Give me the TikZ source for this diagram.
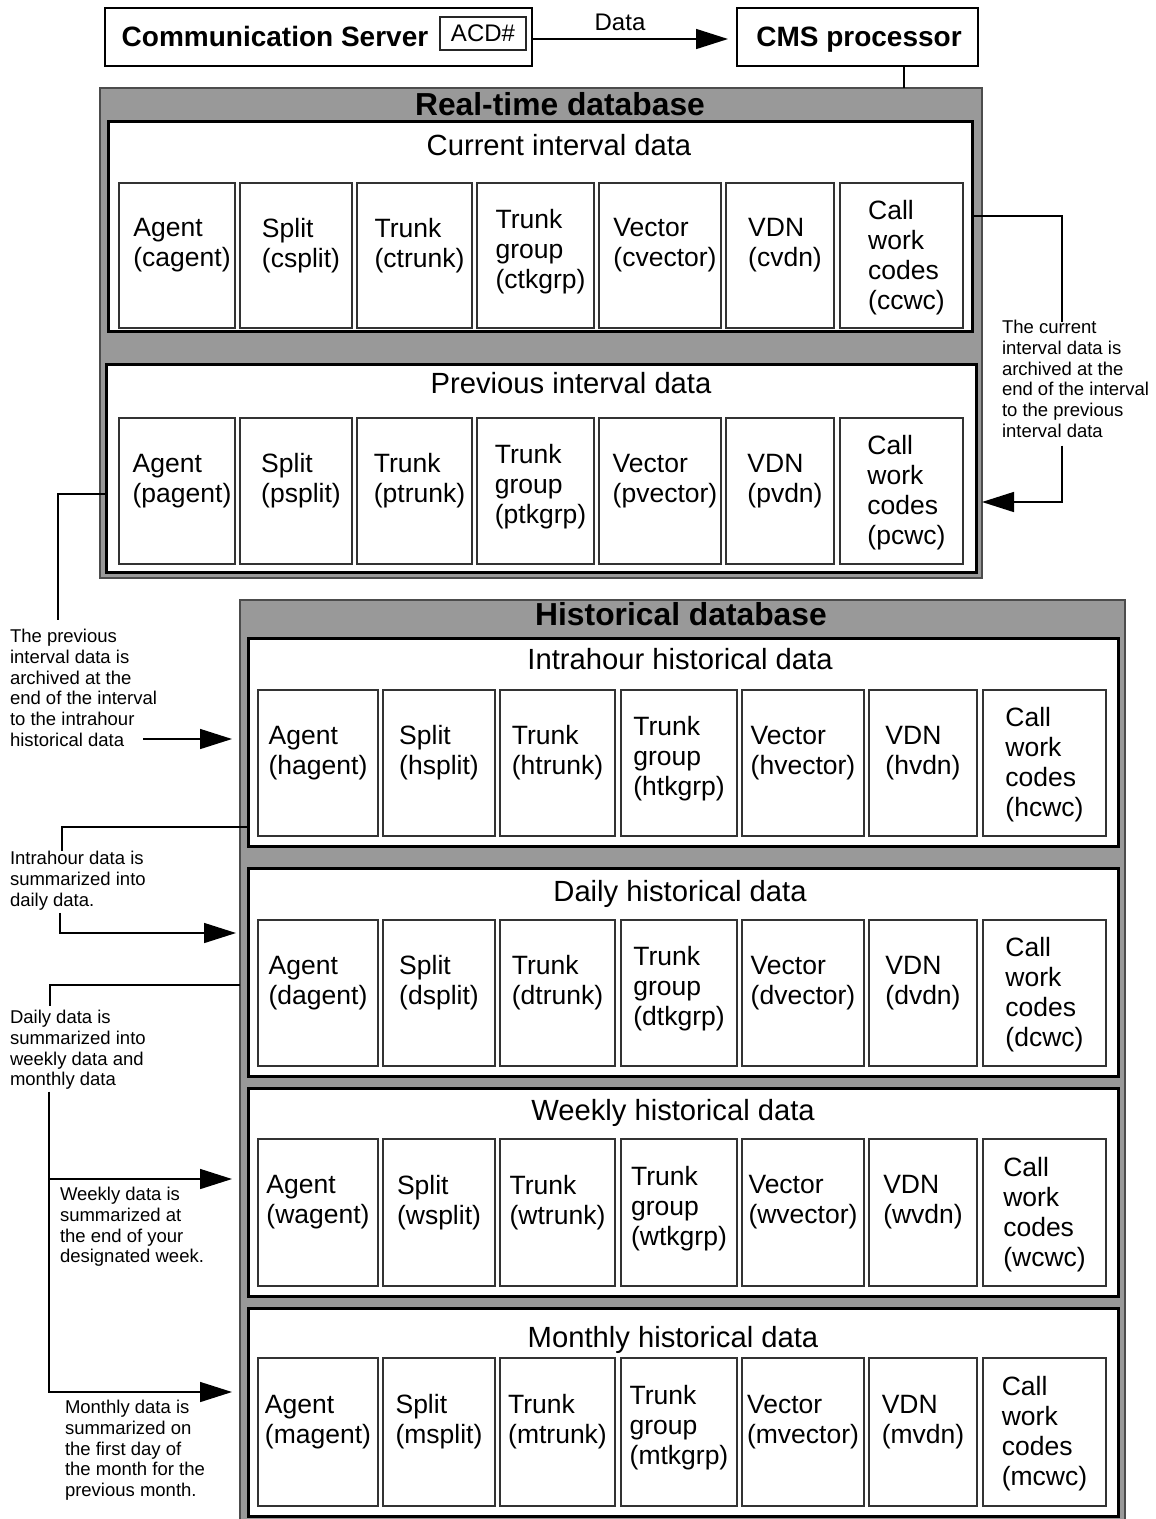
\documentclass[tikz,border=0pt]{standalone}
\usepackage{fontspec}
\setmainfont{Liberation Sans}
\usetikzlibrary{arrows.meta}
\newcommand\rbox[7][]{\node[#1, minimum width={#5-#3}, minimum height={#6-#4}] (#2) at ({(#3+#5)/2},{(#4+#6)/2}) {#7};}
\newcommand\celltxt[2]{\ifcase#2\or Agent\\(#1agent)\or Split\\(#1split)\or Trunk\\(#1trunk)\or Trunk\\group\\(#1tkgrp)\or Vector\\(#1vector)\or VDN\\(#1vdn)\or Call\\work\\codes\\(#1cwc)\fi}
\newcommand\cellrow[5]{%
  \foreach \xa/\xb/\dy [count=\i] in #4 {
    \node[cellbox, minimum width={\xb-\xa}, minimum height={#3-#2}] (#1c\i) at ({(\xa+\xb)/2},{(#2+#3)/2}) {};
    \node[celltext] (#1t\i) at ([xshift=#5pt, yshift=\dy pt]#1c\i.center) {\celltxt{#1}{\i}};
  }}
\def\rtxs{119/235/10, 240/352/10, 357/472/10, 477/594/4, 599/721/10, 726/834/10, 840/963/-2}
\def\hxs{258/378/10, 383/495/10, 500/615/10, 621/737/4, 742/864/10, 869/977/10, 983/1106/-2}
\begin{document}
\begin{tikzpicture}[x=1pt,y=-1pt,
  base/.style={inner sep=0pt, outer sep=0pt},
  greybox/.style={base, draw=black!70, fill=black!40, line width=1.5pt},
  panel/.style={base, draw=black, fill=white, line width=3pt},
  cellbox/.style={base, draw=black!80, fill=white, line width=1.3pt},
  celltext/.style={base, align=left, font=\fontsize{26.5}{30}\selectfont},
  ptitle/.style={base, yshift=-6pt, text height=0.72em, text depth=0pt, font=\fontsize{29.2}{32}\selectfont},
  dbtitle/.style={base, yshift=-6pt, text height=0.72em, text depth=0pt, font=\bfseries\fontsize{31.8}{34}\selectfont},
  topbox/.style={base, draw=black, fill=white, line width=2.5pt},
  toptext/.style={base, yshift=-5pt, text height=0.72em, text depth=0pt, font=\bfseries\fontsize{28}{32}\selectfont},
  smallbox/.style={base, draw=black!85, fill=white, line width=1.3pt, font=\fontsize{24}{28}\selectfont},
  note/.style={base, align=left, anchor=north west, font=\fontsize{18.5}{20.8}\selectfont},
  conn/.style={line width=1.5pt, draw=black},
  arr/.style={conn, -{Triangle[length=32pt,width=20pt]}}
]
\useasboundingbox (0,0) rectangle (1156,1519);

% top row
\rbox[topbox]{cs}{105}{8}{532}{66}{}
\node[toptext] (csl) at (275,38) {Communication Server};
\rbox[smallbox]{acd}{440}{17}{526}{50}{ACD\#}
\rbox[topbox]{cms}{737}{8}{978}{66}{}
\node[toptext] (cmsl) at (859,38) {CMS processor};
\node[base, font=\fontsize{24}{28}\selectfont] (datal) at (620,22) {Data};
\draw[arr, shorten >=9pt] (cs.east |- 0,39) -- (cms.west |- 0,39);

% real-time database
\rbox[greybox]{rt}{100}{88}{982}{578}{}
\node[dbtitle] (rtT) at (560,106) {Real-time database};
\draw[conn] ([xshift=46.5pt]cms.south) -- ([xshift=46.5pt]cms.south |- rt.north);

\rbox[panel]{cur}{108}{121}{972}{331}{}
\node[ptitle] (curT) at (559,146) {Current interval data};
\cellrow{c}{183}{328}{\rtxs}{5}

\rbox[panel]{prev}{106}{364}{976}{572}{}
\node[ptitle] (prevT) at (571,384) {Previous interval data};
\cellrow{p}{418}{564}{\rtxs}{5}

% historical database
\rbox[greybox]{hist}{240}{600}{1125}{1522}{}
\node[dbtitle] (histT) at (681,616) {Historical database};

\rbox[panel]{ih}{248}{638}{1118}{846}{}
\node[ptitle] (ihT) at (680,660) {Intrahour historical data};
\cellrow{h}{690}{836}{\hxs}{0}

\rbox[panel]{dy}{248}{868}{1118}{1076}{}
\node[ptitle] (dyT) at (680,892) {Daily historical data};
\cellrow{d}{920}{1066}{\hxs}{0}

\rbox[panel]{wk}{248}{1088}{1118}{1296}{}
\node[ptitle] (wkT) at (673,1111) {Weekly historical data};
\cellrow{w}{1139}{1286}{\hxs}{0}

\rbox[panel]{mo}{248}{1308}{1118}{1516}{}
\node[ptitle] (moT) at (673,1338) {Monthly historical data};
\cellrow{m}{1358}{1506}{\hxs}{0}

% notes
\node[note] (n1) at (1002,320) {The current\\interval data is\\archived at the\\end of the interval\\to the previous\\interval data};
\node[note] (n2) at (10,629) {The previous\\interval data is\\archived at the\\end of the interval\\to the intrahour\\historical data};
\node[note] (n3) at (10,851) {Intrahour data is\\summarized into\\daily data.};
\node[note] (n4) at (10,1010) {Daily data is\\summarized into\\weekly data and\\monthly data};
\node[note] (n5) at (60,1187) {Weekly data is\\summarized at\\the end of your\\designated week.};
\node[note] (n6) at (65,1400) {Monthly data is\\summarized on\\the first day of\\the month for the\\previous month.};

% connectors
\coordinate (b1) at (1062,502);
\draw[conn, shorten >=-2pt] ([yshift=10pt]cur.east) -| (n1.north -| b1);
\draw[arr, shorten <=8pt] (n1.south -| b1) -- (b1) -- (rt.east |- b1);

\coordinate (c2) at (58,494);
\coordinate (s2) at (143,739);
\draw[conn, shorten >=9pt] (prev.west |- c2) -- (c2) -- (n2.north -| c2);
\draw[arr, shorten >=8pt] (s2) -- (hist.west |- s2);

\coordinate (c3) at (62,827);
\coordinate (b3) at (60,933);
\draw[conn] (ih.west |- c3) -- (c3) -- (n3.north -| c3);
\draw[arr, shorten <=3pt, shorten >=4pt] (n3.south -| b3) -- (b3) -- (hist.west |- b3);

\coordinate (c4) at (50,985);
\coordinate (b4) at (49,1392);
\coordinate (b5) at (49,1179);
\draw[conn, shorten >=4pt] (hist.west |- c4) -- (c4) -- (n4.north -| c4);
\draw[arr, shorten <=2pt, shorten >=8pt] (n4.south -| b4) -- (b4) -- (hist.west |- b4);
\draw[arr, shorten >=8pt] (b5) -- (hist.west |- b5);
\end{tikzpicture}
\end{document}
